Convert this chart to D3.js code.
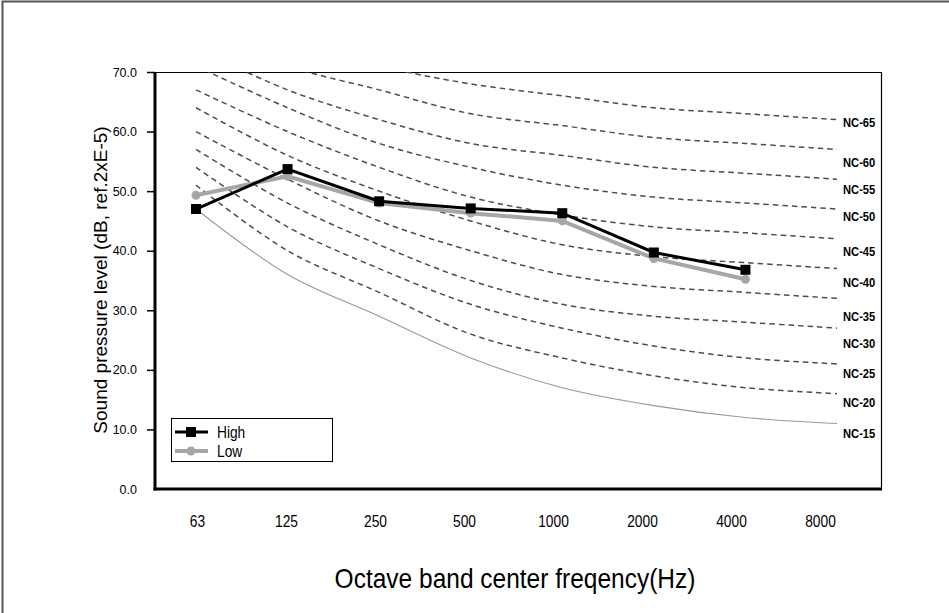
<!DOCTYPE html>
<html>
<head>
<meta charset="utf-8">
<script src="https://cdn.jsdelivr.net/npm/d3@7"></script>
<style>
  body { margin: 0; background: #fff; }
  svg { display: block; }
</style>
</head>
<body>
<div id="chart"></div>
<script>
// Octave bands (x categories)
var bands = ["63", "125", "250", "500", "1000", "2000", "4000", "8000"];
var yTicks = [0, 10, 20, 30, 40, 50, 60, 70];

// Measured levels
var high = [47.0, 53.7, 48.3, 47.1, 46.3, 39.7, 36.8];
var low = [49.3, 52.5, 48.0, 46.3, 45.0, 38.7, 35.2];

// NC curves (dB at each band)
var ncNames = ["NC-15", "NC-20", "NC-25", "NC-30", "NC-35", "NC-40", "NC-45", "NC-50", "NC-55", "NC-60", "NC-65"];
var ncValues = [
  [47, 36, 29, 22, 17, 14, 12, 11],
  [51, 40, 33, 26, 22, 19, 17, 16],
  [54, 44, 37, 31, 27, 24, 22, 21],
  [57, 48, 41, 35, 31, 29, 28, 27],
  [60, 52, 45, 40, 36, 34, 33, 32],
  [64, 56, 50, 45, 41, 39, 38, 37],
  [67, 60, 54, 49, 46, 44, 43, 42],
  [71, 64, 58, 54, 51, 49, 48, 47],
  [74, 67, 62, 58, 56, 54, 53, 52],
  [77, 71, 67, 63, 61, 59, 58, 57],
  [80, 75, 71, 68, 66, 64, 63, 62]
];
// level (dB) where each NC text label sits on the right
var ncLabelLevel = [9.3, 14.6, 19.4, 24.4, 29.0, 34.7, 39.9, 45.8, 50.3, 54.9, 61.6];

var W = 949, H = 613;
var plot = { left: 155, right: 881, top: 72, bottom: 489 };
var narrow = "scale(0.86,1)"; // condensed look of the original text

var svg = d3.select("#chart")
  .append("svg")
  .attr("width", W)
  .attr("height", H);

// outer chart frame (runs off the picture on the right / bottom)
svg.append("rect")
  .attr("x", 2.5).attr("y", 1.5)
  .attr("width", 1200).attr("height", 1200)
  .attr("fill", "none")
  .attr("stroke", "#555")
  .attr("stroke-width", 2);

var x = d3.scalePoint().domain(bands).range([196, 837]);
var xLab = d3.scalePoint().domain(bands).range([197, 820]);
var y = d3.scaleLinear().domain([0, 70]).range([plot.bottom, plot.top]);

svg.append("clipPath").attr("id", "clip")
  .append("rect")
  .attr("x", plot.left).attr("y", plot.top)
  .attr("width", plot.right - plot.left).attr("height", plot.bottom - plot.top);

// plot box top / right
svg.append("line")
  .attr("x1", plot.left).attr("x2", plot.right)
  .attr("y1", plot.top + 0.5).attr("y2", plot.top + 0.5)
  .attr("stroke", "#000").attr("stroke-width", 1.2);
svg.append("line")
  .attr("x1", plot.right + 0.5).attr("x2", plot.right + 0.5)
  .attr("y1", plot.top).attr("y2", plot.bottom)
  .attr("stroke", "#000").attr("stroke-width", 1.2);

// NC curves
var ncLine = d3.line()
  .x(function(d, i) { return x(bands[i]); })
  .y(function(d) { return y(d); })
  .curve(d3.curveCatmullRom.alpha(0.5));

svg.append("g")
  .attr("clip-path", "url(#clip)")
  .selectAll("path")
  .data(ncValues)
  .enter()
  .append("path")
  .attr("d", ncLine)
  .attr("fill", "none")
  .attr("stroke", function(d, i) { return i === 0 ? "#999" : "#4d4d4d"; })
  .attr("stroke-width", function(d, i) { return i === 0 ? 1.1 : 1.5; })
  .attr("stroke-dasharray", function(d, i) { return i === 0 ? null : "5.5,4"; });

svg.append("g")
  .selectAll("text")
  .data(ncNames)
  .enter()
  .append("text")
  .attr("transform", function(d, i) {
    return "translate(843," + y(ncLabelLevel[i]) + ") " + narrow;
  })
  .attr("dy", "0.35em")
  .style("font-family", "'Liberation Sans', Arial, sans-serif")
  .style("font-weight", "bold")
  .style("font-size", "13px")
  .text(function(d) { return d; });

// series lines
var serLine = d3.line()
  .x(function(d, i) { return x(bands[i]); })
  .y(function(d) { return y(d); });

svg.append("path")
  .datum(low)
  .attr("d", serLine)
  .attr("fill", "none")
  .attr("stroke", "#a6a6a6")
  .attr("stroke-width", 4);
svg.append("g")
  .selectAll("circle")
  .data(low)
  .enter()
  .append("circle")
  .attr("cx", function(d, i) { return x(bands[i]); })
  .attr("cy", function(d) { return y(d); })
  .attr("r", 4.5)
  .attr("fill", "#a6a6a6");

svg.append("path")
  .datum(high)
  .attr("d", serLine)
  .attr("fill", "none")
  .attr("stroke", "#000")
  .attr("stroke-width", 3);
svg.append("g")
  .selectAll("rect")
  .data(high)
  .enter()
  .append("rect")
  .attr("x", function(d, i) { return x(bands[i]) - 5; })
  .attr("y", function(d) { return y(d) - 5; })
  .attr("width", 10)
  .attr("height", 10)
  .attr("fill", "#000");

// y axis
var yAxis = d3.axisLeft(y)
  .tickValues(yTicks)
  .tickSize(8)
  .tickPadding(10)
  .tickFormat(d3.format(".1f"));
var gy = svg.append("g")
  .attr("transform", "translate(" + plot.left + ",0)")
  .call(yAxis);
gy.select(".domain").remove();
gy.selectAll(".tick line").attr("stroke", "#000").attr("stroke-width", 1.5);
gy.selectAll(".tick text")
  .style("font-family", "'Liberation Sans', Arial, sans-serif")
  .style("font-size", "12.5px")
  .attr("fill", "#000");
gy.select(".tick:first-of-type line").remove();

// x axis labels
var xAxis = d3.axisBottom(xLab).tickSize(0).tickPadding(0);
var gx = svg.append("g")
  .attr("transform", "translate(0," + (plot.bottom + 27) + ")")
  .call(xAxis);
gx.select(".domain").remove();
gx.selectAll(".tick text")
  .attr("transform", narrow)
  .style("font-family", "'Liberation Sans', Arial, sans-serif")
  .style("font-size", "16px")
  .attr("fill", "#000");

// axis lines
svg.append("line")
  .attr("x1", plot.left).attr("x2", plot.left)
  .attr("y1", plot.top).attr("y2", plot.bottom + 1.5)
  .attr("stroke", "#000").attr("stroke-width", 3);
svg.append("line")
  .attr("x1", plot.left - 1.5).attr("x2", plot.right + 1)
  .attr("y1", plot.bottom).attr("y2", plot.bottom)
  .attr("stroke", "#000").attr("stroke-width", 3);

// titles
svg.append("text")
  .attr("transform", "translate(515,578) " + narrow)
  .attr("text-anchor", "middle")
  .attr("dy", "0.35em")
  .style("font-family", "'Liberation Sans', Arial, sans-serif")
  .style("font-size", "28.5px")
  .text("Octave band center freqency(Hz)");

svg.append("text")
  .attr("transform", "translate(100,280) rotate(-90)")
  .attr("text-anchor", "middle")
  .attr("dy", "0.35em")
  .style("font-family", "'Liberation Sans', Arial, sans-serif")
  .style("font-size", "19px")
  .text("Sound pressure level (dB, ref.2xE-5)");

// legend
var leg = svg.append("g").attr("transform", "translate(171,418)");
leg.append("rect")
  .attr("x", 0.5).attr("y", 0.5)
  .attr("width", 161).attr("height", 43)
  .attr("fill", "#fff")
  .attr("stroke", "#000")
  .attr("stroke-width", 1);
var legItems = [
  { name: "High", color: "#000", w: 3, shape: "square" },
  { name: "Low", color: "#a6a6a6", w: 4, shape: "circle" }
];
legItems.forEach(function(it, i) {
  var yy = 14 + i * 19;
  leg.append("line")
    .attr("x1", 4).attr("x2", 37)
    .attr("y1", yy).attr("y2", yy)
    .attr("stroke", it.color).attr("stroke-width", it.w);
  if (it.shape === "square") {
    leg.append("rect").attr("x", 15).attr("y", yy - 5)
      .attr("width", 10).attr("height", 10).attr("fill", it.color);
  } else {
    leg.append("circle").attr("cx", 20).attr("cy", yy).attr("r", 4.5).attr("fill", it.color);
  }
  leg.append("text")
    .attr("transform", "translate(46," + yy + ") " + narrow)
    .attr("dy", "0.35em")
    .style("font-family", "'Liberation Sans', Arial, sans-serif")
    .style("font-size", "16px")
    .text(it.name);
});
</script>
</body>
</html>
